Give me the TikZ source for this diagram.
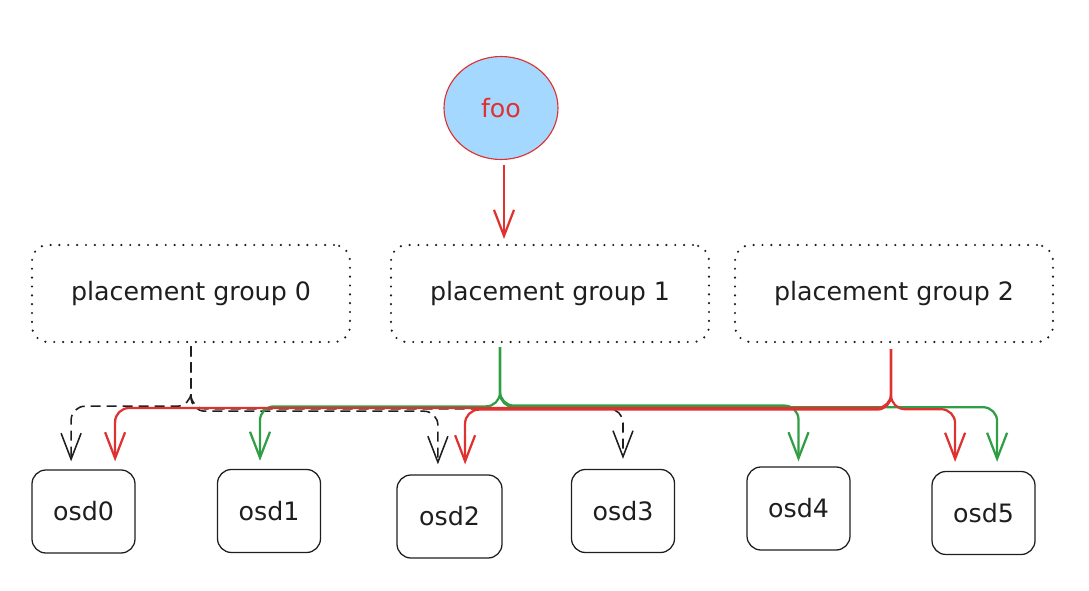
\documentclass[tikz,border=0pt]{standalone}
\usepackage{fontspec}
\setmainfont{DejaVu Sans}
\usepackage{tikz}
\usetikzlibrary{arrows.meta, shapes.geometric}
\definecolor{ink}{HTML}{1E1E1E}
\definecolor{pgred}{HTML}{E03131}
\definecolor{pggreen}{HTML}{2F9E44}
\definecolor{fooblue}{HTML}{A5D8FF}
\tikzstyle{object}=[fill=fooblue, draw=pgred, shape=ellipse, text=pgred,
        minimum width=2.85cm, minimum height=2.575cm, line width=0.8pt,
        font=\fontsize{18}{22}\selectfont]
\tikzstyle{group box}=[draw=ink, shape=rectangle, rounded corners=0.4cm,
        line width=1.7pt, line cap=round, dash pattern=on 0pt off 6.3pt, text=ink,
        minimum width=7.95cm, minimum height=2.425cm, font=\fontsize{18}{22}\selectfont]
\tikzstyle{osd box}=[draw=ink, shape=rectangle, rounded corners=0.35cm,
        line width=0.9pt, text=ink, minimum width=2.575cm, minimum height=2.075cm,
        font=\fontsize{18}{22}\selectfont]
\tikzstyle{red edge}=[->, draw=pgred, line width=1.6pt, rounded corners=0.35cm]
\tikzstyle{green edge}=[->, draw=pggreen, line width=1.6pt, rounded corners=0.35cm]
\tikzstyle{black edge}=[->, draw=ink, line width=1.1pt, rounded corners=0.35cm,
        dash pattern=on 0.25cm off 0.15cm]
\begin{document}
\begin{tikzpicture}[>={Straight Barb[length=0.65cm, width=0.5cm]}]
        \useasboundingbox (0, 0) rectangle (27.225, -14.75);

        \node [style=object] (1) at (12.525, -2.7) {foo};

        \node [style=group box] (2) at (4.775, -7.3375) {placement group 0};
        \node [style=group box] (3) at (13.75, -7.3375) {placement group 1};
        \node [style=group box] (4) at (22.35, -7.3375) {placement group 2};

        \node [style=osd box] (5) at (2.0875, -12.7875) {osd0};
        \node [style=osd box] (6) at (6.725, -12.775) {osd1};
        \node [style=osd box, minimum width=2.625cm] (7) at (11.2375, -12.9125) {osd2};
        \node [style=osd box] (8) at (15.575, -12.775) {osd3};
        \node [style=osd box] (9) at (19.9625, -12.7125) {osd4};
        \node [style=osd box] (10) at (24.5875, -12.825) {osd5};

        \draw [style=red edge, shorten <=0.12cm, shorten >=0.12cm] ([xshift=0.075cm]1.south)
                to ([xshift=0.075cm]1.south |- 3.north);

        % placement group 0
        \draw [style=black edge, shorten <=0.08cm, shorten >=0.2cm] (2.south)
                -- ++(0, -1.575) -| ([xshift=-0.31cm]5.north);
        \draw [style=black edge, shorten <=0.08cm, shorten >=0.25cm] (2.south)
                -- ++(0, -1.7) -| ([xshift=-0.29cm]7.north);
        \draw [style=black edge, shorten <=0.08cm, shorten >=0.25cm] (2.south)
                -- ++(0, -1.64) -| (8.north);

        % placement group 1
        \draw [style=green edge, shorten <=0.1cm, shorten >=0.2cm] ([xshift=-1.25cm]3.south)
                -- ++(0, -1.58) -| ([xshift=-0.225cm]6.north);
        \draw [style=green edge, shorten <=0.1cm, shorten >=0.125cm] ([xshift=-1.25cm]3.south)
                -- ++(0, -1.56) -| (9.north);
        \draw [style=green edge, shorten <=0.1cm, shorten >=0.225cm] ([xshift=-1.25cm]3.south)
                -- ++(0, -1.6) -| ([xshift=0.34cm]10.north);

        % placement group 2
        \draw [style=red edge, shorten <=0.15cm, shorten >=0.2cm] ([xshift=-0.075cm]4.south)
                -- ++(0, -1.62) -| ([xshift=0.79cm]5.north);
        \draw [style=red edge, shorten <=0.15cm, shorten >=0.25cm] ([xshift=-0.075cm]4.south)
                -- ++(0, -1.66) -| ([xshift=0.39cm]7.north);
        \draw [style=red edge, shorten <=0.15cm, shorten >=0.225cm] ([xshift=-0.075cm]4.south)
                -- ++(0, -1.65) -| ([xshift=-0.71cm]10.north);
\end{tikzpicture}
\end{document}
